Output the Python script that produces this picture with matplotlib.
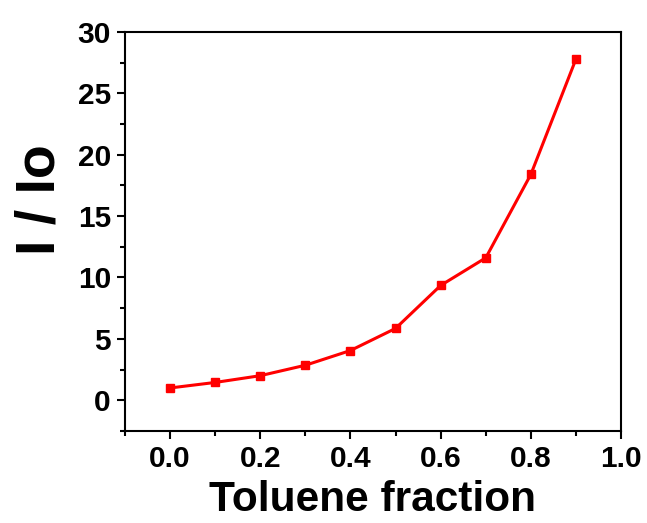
import matplotlib.pyplot as plt
from matplotlib.ticker import MultipleLocator

plt.rcParams['font.family'] = ['Liberation Sans', 'DejaVu Sans']
plt.rcParams['font.weight'] = 'bold'

fraction = [0.0, 0.1, 0.2, 0.3, 0.4, 0.5, 0.6, 0.7, 0.8, 0.9]
ratio = [1.0, 1.45, 2.0, 2.85, 4.05, 5.85, 9.35, 11.6, 18.4, 27.8]

fig = plt.figure(figsize=(6.47, 5.23), dpi=100)
ax = fig.add_axes([0.193, 0.176, 0.767, 0.763])

ax.plot(fraction, ratio, color='#ff0000', lw=2.2, marker='s', ms=6)

ax.set_xlim(-0.1, 1.0)
ax.set_ylim(-2.5, 30)
ax.xaxis.set_major_locator(MultipleLocator(0.2))
ax.xaxis.set_minor_locator(MultipleLocator(0.1))
ax.yaxis.set_major_locator(MultipleLocator(5))
ax.yaxis.set_minor_locator(MultipleLocator(2.5))
ax.set_xticks([0.0, 0.2, 0.4, 0.6, 0.8, 1.0])
ax.set_xticklabels(['0.0', '0.2', '0.4', '0.6', '0.8', '1.0'])

for s in ax.spines.values():
    s.set_linewidth(1.5)
ax.tick_params(which='both', direction='out', width=1.5, top=False, right=False)
ax.tick_params(which='major', length=6, labelsize=21.5, pad=4)
ax.tick_params(which='minor', length=3.5)

ax.set_xlabel('Toluene fraction', fontsize=30.5, fontweight='bold', labelpad=5)
ax.set_ylabel('I / Io', fontsize=40, fontweight='bold', labelpad=8, y=0.58)

fig.savefig('out.png', dpi=100)
